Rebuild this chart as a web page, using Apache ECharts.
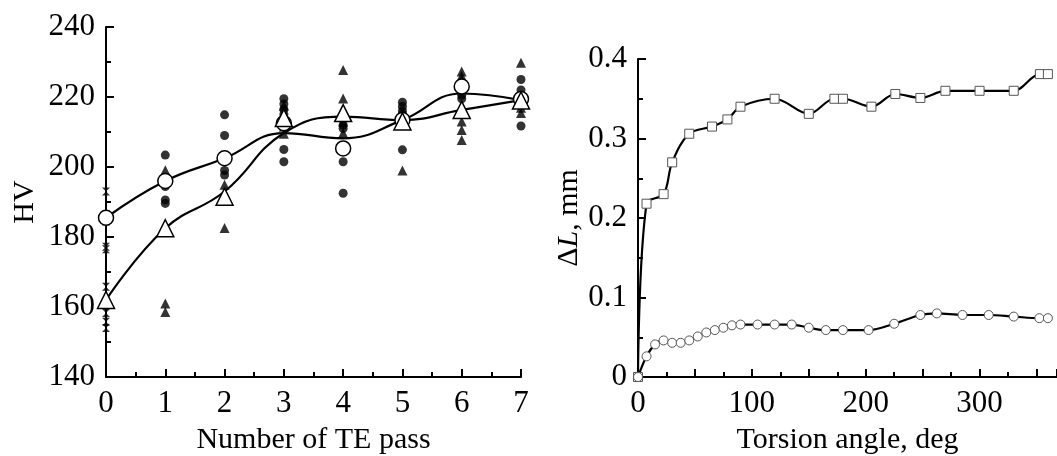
<!DOCTYPE html>
<html>
<head>
<meta charset="utf-8">
<script src="https://cdn.jsdelivr.net/npm/echarts@6.0.0/dist/echarts.min.js"></script>
<style>
html,body{margin:0;padding:0;background:#fff;}
#c{width:1057px;height:456px;}
</style>
</head>
<body>
<div id="c"></div>
<script>
// ---------- Left panel: HV vs number of TE passes ----------
const passTicks = [0, 1, 2, 3, 4, 5, 6, 7];
const hvTicks = [140, 160, 180, 200, 220, 240];
// individual measurements (filled circles)
const circleDots = [
  [1, 203.4], [1, 194.4], [1, 190.6], [1, 189.6],
  [2, 214.9], [2, 209], [2, 199], [2, 197.7], [2, 190.6],
  [3, 219.5], [3, 218], [3, 216.5], [3, 215], [3, 213], [3, 205], [3, 201.5],
  [4, 212], [4, 211], [4, 201.5], [4, 192.5],
  [5, 218.5], [5, 217.3], [5, 216], [5, 215], [5, 213.5], [5, 212], [5, 204.9],
  [6, 224], [6, 222], [6, 220.5], [6, 219.5],
  [7, 225], [7, 222], [7, 220], [7, 218.5], [7, 211.7]
];
// individual measurements (filled triangles)
const triangleDots = [
  [1, 199.1], [1, 161], [1, 158.6],
  [2, 194.9], [2, 192.6], [2, 182.6],
  [3, 217.5], [3, 211.5], [3, 209.5],
  [4, 227.7], [4, 219.6], [4, 216.3], [4, 213], [4, 209.7],
  [5, 214], [5, 199],
  [6, 227.3], [6, 226], [6, 225], [6, 213], [6, 210.6], [6, 207.7],
  [7, 229.8], [7, 219], [7, 216.9], [7, 215.4]
];
// initial state measurements (small hourglass markers at 0 passes)
const initialDots = [193, 184.4, 177.2, 176.5, 165.8, 160.6, 158.3, 155.8, 154];
// mean values (open symbols)
const meanCircle = [185.5, 196, 202.5, 212.5, 205.3, 213.4, 223, 219.4];
const meanTriangle = [162, 182.5, 191.5, 214, 215.4, 213, 216.3, 219];
// fitted curves
const fitCircle = [185.5, 196, 202.5, 209.7, 208.2, 213.4, 221, 219.1];
const fitTriangle = [162, 182.5, 193, 209.7, 214.4, 213.4, 216.3, 219.1];

// ---------- Right panel: elongation vs torsion angle ----------
const angleTicks = [0, 100, 200, 300];
const dlTicks = [0, 0.1, 0.2, 0.3, 0.4];
const squareAngle = [0, 7.5, 22.5, 30, 45, 65, 78.5, 90, 120, 150, 172.5, 180, 205, 226, 248, 270, 300, 330, 353, 360];
const squareDL = [0, 0.218, 0.230, 0.270, 0.306, 0.315, 0.324, 0.340, 0.350, 0.331, 0.350, 0.350, 0.340, 0.356, 0.351, 0.360, 0.360, 0.360, 0.381, 0.381];
const circleAngle = [0, 7.5, 15, 22.5, 30, 37.5, 45, 52.5, 60, 67.5, 75, 82.5, 90, 105, 120, 135, 150, 165, 180, 202.5, 225, 248, 262.5, 285, 308, 330, 352.5, 360];
const circleDL = [0, 0.026, 0.041, 0.046, 0.043, 0.043, 0.046, 0.051, 0.056, 0.059, 0.062, 0.065, 0.066, 0.066, 0.066, 0.066, 0.062, 0.059, 0.059, 0.059, 0.067, 0.078, 0.080, 0.078, 0.078, 0.076, 0.074, 0.074];

const FONT = 'Liberation Serif';
const hourglass = 'path://M0,0 L10,0 L5,5 L10,10 L0,10 L5,5 Z';

const chart = echarts.init(document.getElementById('c'), null, {renderer: 'canvas'});

const axisCommon = {
  axisLine: {show: true, lineStyle: {color: '#000', width: 2}},
  axisTick: {show: true, inside: true, length: 8, lineStyle: {color: '#000', width: 2}},
  minorTick: {show: true, splitNumber: 2, length: 5, lineStyle: {color: '#000', width: 2}},
  splitLine: {show: false},
  axisLabel: {color: '#000', fontFamily: FONT, fontSize: 31},
  nameTextStyle: {color: '#000', fontFamily: FONT, fontSize: 30}
};

function pairs(xs, ys) { return xs.map((x, i) => [x, ys[i]]); }

chart.setOption({
  animation: false,
  backgroundColor: '#fff',
  grid: [
    {left: 106, top: 27, width: 415, bottom: 79, containLabel: false, outerBoundsMode: 'none'},
    {left: 638, top: 59, right: 0, bottom: 79, containLabel: false, outerBoundsMode: 'none'}
  ],
  xAxis: [
    Object.assign({}, axisCommon, {
      gridIndex: 0, type: 'value', min: 0, max: 7, interval: 1,
      name: 'Number of TE pass', nameLocation: 'middle', nameGap: 48,
      axisLabel: Object.assign({}, axisCommon.axisLabel, {margin: 11,
        formatter: v => passTicks.includes(v) ? String(v) : ''})
    }),
    Object.assign({}, axisCommon, {
      gridIndex: 1, type: 'value', min: 0, max: 368, interval: 50,
      name: 'Torsion angle, deg', nameLocation: 'middle', nameGap: 48,
      axisLabel: Object.assign({}, axisCommon.axisLabel, {margin: 11, showMaxLabel: false,
        formatter: v => angleTicks.includes(v) ? String(v) : ''})
    })
  ],
  yAxis: [
    Object.assign({}, axisCommon, {
      gridIndex: 0, type: 'value', min: 140, max: 240, interval: 20,
      name: 'HV', nameLocation: 'middle', nameGap: 66, nameRotate: 90,
      axisLabel: Object.assign({}, axisCommon.axisLabel, {margin: 11,
        formatter: v => hvTicks.includes(v) ? String(v) : ''})
    }),
    Object.assign({}, axisCommon, {
      gridIndex: 1, type: 'value', min: 0, max: 0.4, interval: 0.1,
      name: 'Δ{i|L}, mm', nameLocation: 'middle', nameGap: 52, nameRotate: 90,
      nameTextStyle: Object.assign({}, axisCommon.nameTextStyle, {
        rich: {i: {fontFamily: FONT, fontSize: 30, fontStyle: 'italic', color: '#000'}}
      }),
      axisLabel: Object.assign({}, axisCommon.axisLabel, {margin: 11,
        formatter: v => {
          const r = Math.round(v * 10) / 10;
          if (!dlTicks.includes(r)) return '';
          return r === 0 ? '0' : r.toFixed(1);
        }})
    })
  ],
  series: [
    {type: 'line', xAxisIndex: 0, yAxisIndex: 0, data: pairs(passTicks, fitCircle), smooth: 0.45,
     showSymbol: false, lineStyle: {color: '#000', width: 2.2}, z: 2},
    {type: 'line', xAxisIndex: 0, yAxisIndex: 0, data: pairs(passTicks, fitTriangle), smooth: 0.45,
     showSymbol: false, lineStyle: {color: '#000', width: 2.2}, z: 2},
    {type: 'scatter', xAxisIndex: 0, yAxisIndex: 0, data: circleDots, symbol: 'circle', symbolSize: 9,
     itemStyle: {color: '#000'}, clip: false, z: 3},
    {type: 'scatter', xAxisIndex: 0, yAxisIndex: 0, data: triangleDots, symbol: 'triangle', symbolSize: 10,
     itemStyle: {color: '#000'}, clip: false, z: 3},
    {type: 'scatter', xAxisIndex: 0, yAxisIndex: 0, data: initialDots.map(v => [0, v]), symbol: hourglass, symbolSize: [8, 8],
     itemStyle: {color: '#000'}, clip: false, z: 3},
    {type: 'scatter', xAxisIndex: 0, yAxisIndex: 0, data: pairs(passTicks, meanCircle), symbol: 'circle', symbolSize: 15,
     itemStyle: {color: '#fff', borderColor: '#000', borderWidth: 1.5, opacity: 1}, clip: false, z: 4},
    {type: 'scatter', xAxisIndex: 0, yAxisIndex: 0, data: pairs(passTicks, meanTriangle), symbol: 'triangle', symbolSize: 17,
     itemStyle: {color: '#fff', borderColor: '#000', borderWidth: 1.5, opacity: 1}, clip: false, z: 4},

    {type: 'line', xAxisIndex: 1, yAxisIndex: 1, data: pairs(squareAngle, squareDL), smooth: 0.35,
     symbol: 'rect', symbolSize: 9, showAllSymbol: true,
     lineStyle: {color: '#000', width: 2.2},
     itemStyle: {color: '#fff', borderColor: '#555', borderWidth: 1}, clip: false, z: 3},
    {type: 'line', xAxisIndex: 1, yAxisIndex: 1, data: pairs(circleAngle, circleDL), smooth: 0.35,
     symbol: 'circle', symbolSize: 9, showAllSymbol: true,
     lineStyle: {color: '#000', width: 2.2},
     itemStyle: {color: '#fff', borderColor: '#555', borderWidth: 1}, clip: false, z: 3}
  ]
});
</script>
</body>
</html>
